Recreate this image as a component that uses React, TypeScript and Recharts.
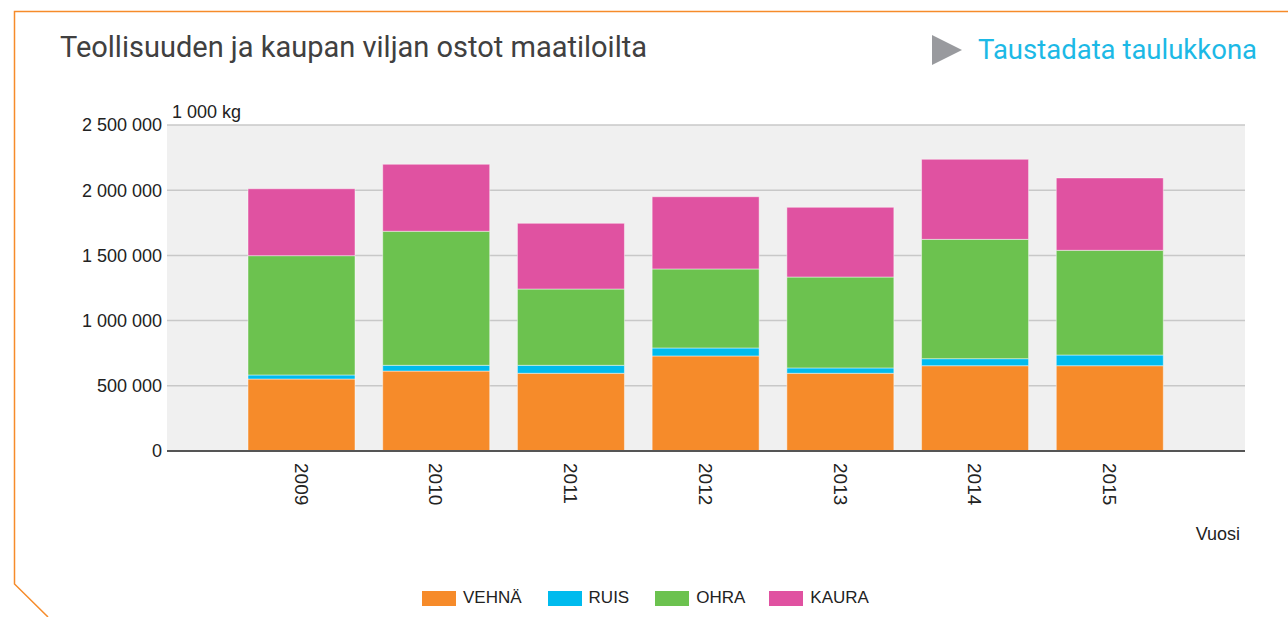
import React from 'react';
import { BarChart, Bar, XAxis, YAxis, CartesianGrid } from 'recharts';

const years = ['2009', '2010', '2011', '2012', '2013', '2014', '2015'];
const vehna = [552000, 613000, 596000, 729000, 596000, 654000, 654000];
const ruis = [31000, 44000, 61000, 61000, 41000, 54000, 82000];
const ohra = [915000, 1028000, 585000, 606000, 697000, 915000, 803000];
const kaura = [513000, 514000, 504000, 554000, 535000, 614000, 555000];
const yTicks = [0, 500000, 1000000, 1500000, 2000000, 2500000];

const series = [
  { key: 'VEHNÄ', color: '#F68B2A', values: vehna },
  { key: 'RUIS', color: '#00BBEE', values: ruis },
  { key: 'OHRA', color: '#6CC24F', values: ohra },
  { key: 'KAURA', color: '#E052A1', values: kaura },
];

const data = years.map((year, i) => {
  const row: Record<string, string | number> = { year };
  series.forEach(s => { row[s.key] = s.values[i]; });
  return row;
});

const formatThousands = (v: number) => String(v).replace(/\B(?=(\d{3})+(?!\d))/g, ' ');

const font = "'Liberation Sans', Arial, sans-serif";

const YearTick = (props: any) => {
  const { x, y, payload } = props;
  return (
    <g transform={`translate(${x},${y + 4})`}>
      <text transform="rotate(90)" textAnchor="start" dy="0.35em" fill="#222" fontSize={19} fontFamily={font}>
        {payload.value}
      </text>
    </g>
  );
};

export default function App() {
  return (
    <div style={{ position: 'relative', width: 1288, height: 617, background: '#fff', overflow: 'hidden' }}>
      <style>{`body{margin:0}`}</style>
      <svg width={1288} height={617} style={{ position: 'absolute', left: 0, top: 0 }}>
        <polyline points="1288,11.5 14.5,11.5 14.5,584 48,617" fill="none" stroke="#F68B2A" strokeWidth={1.5} />
        <polygon points="932,35 962,50 932,65" fill="#999A9E" />
      </svg>
      <div style={{ position: 'absolute', left: 60, top: 31, fontFamily: 'Roboto, sans-serif', fontSize: 29, lineHeight: 1.17, color: '#404040', whiteSpace: 'nowrap' }}>
        Teollisuuden ja kaupan viljan ostot maatiloilta
      </div>
      <div style={{ position: 'absolute', left: 978, top: 34, fontFamily: 'Roboto, sans-serif', fontSize: 27.5, lineHeight: 1.17, color: '#1CB9E6', whiteSpace: 'nowrap' }}>
        Taustadata taulukkona
      </div>
      <div style={{ position: 'absolute', left: 172, top: 102, fontFamily: font, fontSize: 18, color: '#222' }}>1 000 kg</div>
      <div style={{ position: 'absolute', right: 48, top: 524, fontFamily: font, fontSize: 18, color: '#222' }}>Vuosi</div>

      <div style={{ position: 'absolute', left: 0, top: 0 }}>
        <BarChart width={1288} height={617} data={data} margin={{ top: 125, right: 43, left: 0, bottom: 0 }} barSize={107}>
          <CartesianGrid vertical={false} fill="#F0F0F0" stroke="#C8C8C8" strokeWidth={1.5} />
          <XAxis
            dataKey="year"
            height={166}
            padding={{ left: 67, right: 68 }}
            tickLine={false}
            axisLine={{ stroke: '#555', strokeWidth: 2 }}
            tick={<YearTick />}
            interval={0}
          />
          <YAxis
            width={167}
            domain={[0, 2500000]}
            ticks={yTicks}
            tickFormatter={formatThousands}
            axisLine={false}
            tickLine={false}
            tickSize={0}
            tickMargin={5}
            tick={{ fill: '#222', fontSize: 18, fontFamily: font }}
          />
          {series.map(s => (
            <Bar key={s.key} dataKey={s.key} stackId="a" fill={s.color} stroke="rgba(255,255,255,0.45)" strokeWidth={1} isAnimationActive={false} />
          ))}
        </BarChart>
      </div>

      <div style={{ position: 'absolute', left: 422, top: 588, display: 'flex', alignItems: 'center', fontFamily: font, fontSize: 17, color: '#222' }}>
        {series.map((s, i) => (
          <div key={s.key} style={{ display: 'flex', alignItems: 'center', marginRight: [26, 26, 24, 0][i] }}>
            <span style={{ display: 'inline-block', width: 34, height: 15, background: s.color, marginRight: 7 }} />
            <span>{s.key}</span>
          </div>
        ))}
      </div>
    </div>
  );
}
